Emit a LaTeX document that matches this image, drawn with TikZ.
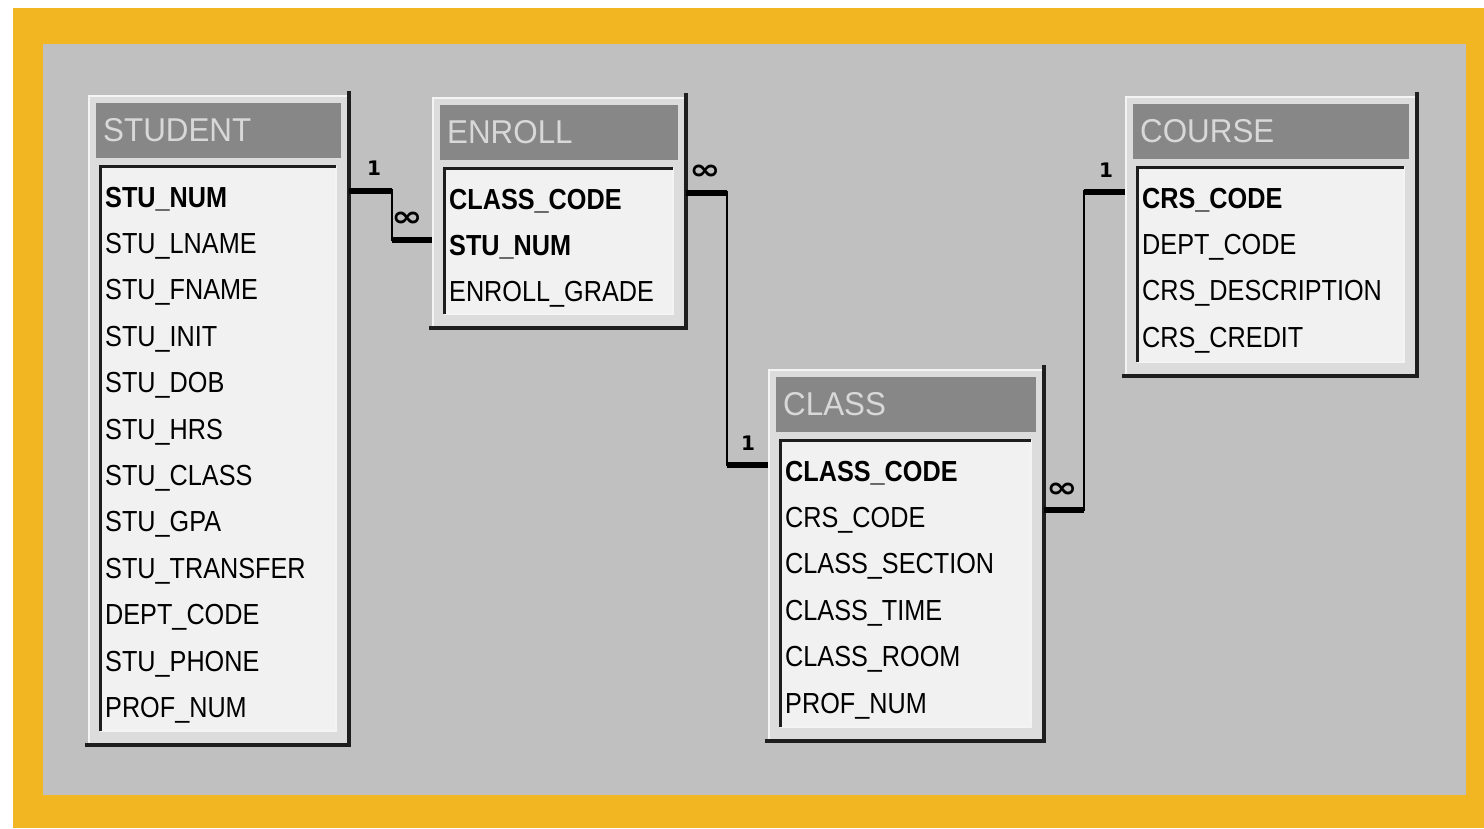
\documentclass[tikz,border=0pt]{standalone}
\usepackage{fontspec}
\usepackage{graphicx}
\usetikzlibrary{fit}
\newfontfamily\dbfont[FakeStretch=0.87]{Liberation Sans}
\newfontfamily\dbtitlefont[FakeStretch=0.95]{Liberation Sans}
\newfontfamily\dbsymfont{DejaVu Sans}
\definecolor{orangebg}{HTML}{F2B622}
\definecolor{graybg}{HTML}{C0C0C0}
\definecolor{framecol}{HTML}{DCDCDC}
\definecolor{hilitecol}{HTML}{F4F4F4}
\definecolor{titlecol}{HTML}{878787}
\definecolor{titletxt}{HTML}{D8D8D8}
\definecolor{innercol}{HTML}{F1F1F1}
\definecolor{shadowcol}{HTML}{1E1E1E}
\tikzset{
  rowtext/.style={anchor=west, inner sep=0pt, text height=21pt, text depth=0pt,
    font=\dbfont\fontsize{29}{34}\selectfont, text=black},
  titletext/.style={anchor=west, inner sep=0pt, text=titletxt,
    font=\dbtitlefont\fontsize{33}{38}\selectfont},
  tablefit/.style={inner sep=0pt, outer sep=0pt},
  shadowline/.style={draw=shadowcol, line width=3.5pt},
  insetline/.style={draw=shadowcol, line width=3pt},
  hiliteline/.style={draw=hilitecol, line width=2pt},
  linkthin/.style={draw=black, line width=2.2pt},
  linkstub/.style={draw=black, line width=6pt},
  onelabel/.style={inner sep=0pt, font=\dbsymfont\bfseries\fontsize{20}{22}\selectfont},
  manylabel/.style={inner sep=0pt, font=\dbsymfont\bfseries\fontsize{22}{24}\selectfont},
}
% #1 name, #2 x1, #3 y1, #4 x2, #5 y2, #6 title, #7 rows
\newcommand\dbtable[7]{%
  \fill[framecol] (#2,#3) rectangle (#4,#5);
  \draw[hiliteline] (#2+1,#5-2) -- (#2+1,#3+1) -- (#4-2,#3+1);
  \draw[shadowline] (#4,#3-4) -- (#4,#5) -- (#2-3,#5);
  \fill[titlecol] (#2+8,#3+8) rectangle (#4-8,#3+63);
  \node[titletext] (#1-title) at (#2+15,#3+35) {#6};
  \fill[innercol] (#2+12,#3+71) rectangle (#4-13,#5-14);
  \draw[hiliteline] (#2+12,#5-14) -- (#4-13,#5-14) -- (#4-13,#3+71);
  \draw[insetline] (#2+12,#5-14) -- (#2+12,#3+71) -- (#4-13,#3+71);
  \node[tablefit, fit={(#2,#3) (#4,#5)}] (#1) {};
  \foreach \t [count=\i] in {#7} {
    \node[rowtext] (#1\i) at (#2+17,#3+101.5+46.4*\i-46.4) {\t};
  }
}
\begin{document}
\begin{tikzpicture}[x=1pt,y=-1pt]
\useasboundingbox (0,0) rectangle (1484,828);
\fill[white] (0,0) rectangle (1484,828);
\fill[orangebg] (13,8) rectangle (1484,828);
\fill[graybg] (43,44) rectangle (1466,795);

\dbtable{stu}{88}{95}{349}{745}{STUDENT}{{\bfseries STU\_NUM},STU\_LNAME,STU\_FNAME,STU\_INIT,STU\_DOB,STU\_HRS,STU\_CLASS,STU\_GPA,STU\_TRANSFER,DEPT\_CODE,STU\_PHONE,PROF\_NUM}
\dbtable{enr}{432}{97}{686}{328}{ENROLL}{{\bfseries CLASS\_CODE},{\bfseries STU\_NUM},ENROLL\_GRADE}
\dbtable{cls}{768}{369}{1044}{741}{CLASS}{{\bfseries CLASS\_CODE},CRS\_CODE,CLASS\_SECTION,CLASS\_TIME,CLASS\_ROOM,PROF\_NUM}
\dbtable{crs}{1125}{96}{1417}{376}{COURSE}{{\bfseries CRS\_CODE},DEPT\_CODE,CRS\_DESCRIPTION,CRS\_CREDIT}

% connector anchor points (slightly above row centres)
\coordinate (p-stu1) at ([yshift=6pt]stu1.west);
\coordinate (p-enr1) at ([yshift=6pt]enr1.west);
\coordinate (p-enr2) at ([yshift=5pt]enr2.west);
\coordinate (p-cls1) at ([yshift=6pt]cls1.west);
\coordinate (p-cls2) at ([yshift=7pt]cls2.west);
\coordinate (p-crs1) at ([yshift=6pt]crs1.west);

% STUDENT -- ENROLL
\draw[linkthin] (stu.east |- p-stu1) -- ++(43,0) |- (enr.west |- p-enr2);
\draw[linkstub] (stu.east |- p-stu1) -- ++(43,0);
\draw[linkstub] (enr.west |- p-enr2) -- ++(-40,0);
\node[onelabel] (l1) at (374,168) {1};
\node[manylabel] (m1) at (407,219) {\scalebox{1.7}[1.3]{∞}};

% ENROLL -- CLASS
\draw[linkthin] (enr.east |- p-enr1) -- ++(41,0) |- (cls.west |- p-cls1);
\draw[linkstub] (enr.east |- p-enr1) -- ++(41,0);
\draw[linkstub] (cls.west |- p-cls1) -- ++(-41,0);
\node[manylabel] (m2) at (705,172) {\scalebox{1.7}[1.3]{∞}};
\node[onelabel] (l2) at (748,443) {1};

% CLASS -- COURSE
\draw[linkthin] (cls.east |- p-cls2) -- ++(40,0) |- (crs.west |- p-crs1);
\draw[linkstub] (cls.east |- p-cls2) -- ++(40,0);
\draw[linkstub] (crs.west |- p-crs1) -- ++(-41,0);
\node[manylabel] (m3) at (1062,490) {\scalebox{1.7}[1.3]{∞}};
\node[onelabel] (l3) at (1106,170) {1};
\end{tikzpicture}
\end{document}
